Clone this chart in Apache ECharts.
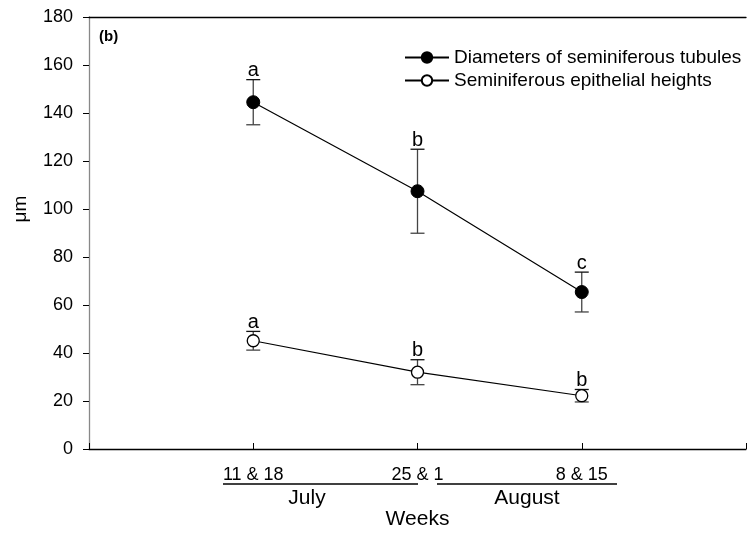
<!DOCTYPE html>
<html>
<head>
<meta charset="utf-8">
<script src="https://cdn.jsdelivr.net/npm/echarts@6/dist/echarts.min.js"></script>
<style>
  html, body { margin: 0; padding: 0; background: #fff; }
  #main { width: 749px; height: 535px; }
</style>
</head>
<body>
<div id="main"></div>
<script>
var weeks = ['11 & 18', '25 & 1', '8 & 15'];
var weekPos = [1, 2, 3];
var diamMean = [144.5, 107.4, 65.4];
var diamErr = [9.4, 17.5, 8.3];
var diamLetters = ['a', 'b', 'c'];
var epiMean = [45.1, 32.0, 22.2];
var epiErr = [3.9, 5.2, 2.6];
var epiLetters = ['a', 'b', 'b'];
var yTicks = [0, 20, 40, 60, 80, 100, 120, 140, 160, 180];

var FONT = '"Liberation Sans", Arial, sans-serif';

function pairs(vals) {
    return weekPos.map(function (x, i) { return [x, vals[i]]; });
}

function errData(mean, err, letters) {
    return weekPos.map(function (x, i) {
        return [x, mean[i] - err[i], mean[i] + err[i], letters[i]];
    });
}

// error bar + significance letter above the upper cap
function renderErr(params, api) {
    var lo = api.coord([api.value(0), api.value(1)]);
    var hi = api.coord([api.value(0), api.value(2)]);
    var half = 7;
    var st = { stroke: '#444', lineWidth: 1.3 };
    return {
        type: 'group',
        children: [
            { type: 'line', shape: { x1: hi[0], y1: hi[1], x2: lo[0], y2: lo[1] }, style: st },
            { type: 'line', shape: { x1: hi[0] - half, y1: hi[1], x2: hi[0] + half, y2: hi[1] }, style: { stroke: '#111', lineWidth: 1.3 } },
            { type: 'line', shape: { x1: lo[0] - half, y1: lo[1], x2: lo[0] + half, y2: lo[1] }, style: st },
            { type: 'text', x: hi[0], y: hi[1] + 1,
              style: { text: api.value(3), fill: '#000', font: '20px ' + FONT,
                       textAlign: 'center', textVerticalAlign: 'bottom' } }
        ]
    };
}

var myChart = echarts.init(document.getElementById('main'));
var option = {
    backgroundColor: '#fff',
    animation: false,
    textStyle: { fontFamily: FONT },
    grid: { left: 89, right: -4, top: 17, bottom: 86, containLabel: false },
    legend: {
        orient: 'vertical',
        left: 399,
        top: 43,
        itemWidth: 44,
        itemHeight: 13,
        itemGap: 4,
        textStyle: { fontSize: 19, color: '#000', fontFamily: FONT },
        data: ['Diameters of seminiferous tubules', 'Seminiferous epithelial heights']
    },
    xAxis: [{
        type: 'value',
        min: 0, max: 4, interval: 1,
        position: 'bottom',
        name: 'Weeks',
        nameLocation: 'middle',
        nameGap: 60,
        nameTextStyle: { fontSize: 21, color: '#000' },
        splitLine: { show: false },
        axisLine: { lineStyle: { color: '#000', width: 1.3 } },
        axisTick: { inside: true, length: 6, lineStyle: { color: '#000' } },
        axisLabel: {
            margin: 17, fontSize: 18, color: '#000',
            formatter: function (v) { return weeks[v - 1] || ''; }
        }
    }, {
        type: 'value',
        min: 0, max: 4,
        position: 'top',
        splitLine: { show: false },
        axisLine: { show: true, lineStyle: { color: '#000', width: 1.3 } },
        axisTick: { show: false },
        axisLabel: { show: false }
    }],
    yAxis: {
        type: 'value',
        min: 0, max: 180, interval: 20,
        splitLine: { show: false },
        axisLine: { show: true, lineStyle: { color: '#888', width: 1.3 } },
        axisTick: { show: true, length: 6, lineStyle: { color: '#000' } },
        axisLabel: { margin: 16, fontSize: 18, color: '#000',
            formatter: function (v) { return yTicks.indexOf(v) >= 0 ? String(v) : ''; } }
    },
    graphic: [
        { type: 'text', x: 21, y: 209, rotation: Math.PI / 2,
          style: { text: 'μm', font: '19px ' + FONT, fill: '#000',
                   textAlign: 'center', textVerticalAlign: 'middle' } },
        { type: 'text', left: 99, top: 29,
          style: { text: '(b)', font: 'bold 15px ' + FONT, fill: '#000' } },
        { type: 'line', shape: { x1: 223, y1: 484, x2: 418, y2: 484 },
          style: { stroke: '#000', lineWidth: 1.5 } },
        { type: 'line', shape: { x1: 437, y1: 484, x2: 617, y2: 484 },
          style: { stroke: '#000', lineWidth: 1.5 } },
        { type: 'text', x: 307, y: 498,
          style: { text: 'July', font: '21px ' + FONT, fill: '#000',
                   textAlign: 'center', textVerticalAlign: 'middle' } },
        { type: 'text', x: 527, y: 498,
          style: { text: 'August', font: '21px ' + FONT, fill: '#000',
                   textAlign: 'center', textVerticalAlign: 'middle' } }
    ],
    series: [
        {
            type: 'custom',
            renderItem: renderErr,
            data: errData(diamMean, diamErr, diamLetters),
            encode: { x: 0, y: [1, 2] },
            z: 2, silent: true
        },
        {
            type: 'custom',
            renderItem: renderErr,
            data: errData(epiMean, epiErr, epiLetters),
            encode: { x: 0, y: [1, 2] },
            z: 2, silent: true
        },
        {
            name: 'Diameters of seminiferous tubules',
            type: 'line',
            data: pairs(diamMean),
            symbol: 'circle',
            symbolSize: 13,
            z: 5,
            lineStyle: { color: '#000', width: 1.2 },
            itemStyle: { color: '#000', borderColor: '#000', borderWidth: 1 }
        },
        {
            name: 'Seminiferous epithelial heights',
            type: 'line',
            data: pairs(epiMean),
            symbol: 'circle',
            symbolSize: 12,
            z: 5,
            lineStyle: { color: '#000', width: 1.2 },
            itemStyle: { color: '#fff', borderColor: '#000', borderWidth: 1.3 }
        }
    ]
};
myChart.setOption(option);
</script>
</body>
</html>
